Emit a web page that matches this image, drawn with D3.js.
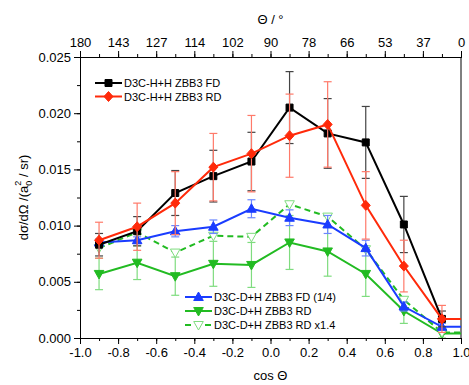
<!DOCTYPE html>
<html>
<head>
<meta charset="utf-8">
<script src="https://d3js.org/d3.v7.min.js"></script>
<style>
  body { margin: 0; background: #fff; }
  svg { font-family: "Liberation Sans", Arial, sans-serif; }
</style>
</head>
<body>
<svg id="chart" width="469" height="385"></svg>
<script>
// cos(theta) positions; the last point lies past the frame and gets clipped
const cosTheta = [-0.9, -0.7, -0.5, -0.3, -0.1, 0.1, 0.3, 0.5, 0.7, 0.9, 1.1];

const hhFD    = [0.0083, 0.0095, 0.0129, 0.0144, 0.0157, 0.0205, 0.0182, 0.0174, 0.0101, 0.0017, 0.0017];
const hhFDerr = [0.0010, 0.0013, 0.0020, 0.0023, 0.0026, 0.0032, 0.0031, 0.0032, 0.0025, 0.0007, null];

const hhRD    = [0.0087, 0.0099, 0.0120, 0.0152, 0.0164, 0.0180, 0.0190, 0.0118, 0.0064, 0.0017, 0.0017];
const hhRDerr = [0.0016, 0.0021, 0.0028, 0.0030, 0.0034, 0.0037, 0.0038, 0.0030, 0.0023, 0.0012, null];

const dhFD    = [0.0085, 0.0087, 0.0095, 0.0099, 0.0115, 0.0107, 0.0101, 0.0080, 0.0028, 0.0010, 0.0010];
const dhFDerr = [0.0003, 0.0003, 0.0005, 0.0006, 0.0008, 0.0007, 0.0008, 0.0007, 0.0004, 0.0003, null];

const dhRD    = [0.0057, 0.0067, 0.0055, 0.0066, 0.0065, 0.0085, 0.0077, 0.0057, 0.0024, 0.0004, 0.0004];
const dhRDerr = [0.0014, 0.0015, 0.0017, 0.0020, 0.0020, 0.0024, 0.0022, 0.0020, 0.0011, 0.0004, null];

const dhRD14  = [0.0080, 0.0094, 0.0076, 0.0091, 0.0090, 0.0119, 0.0108, 0.0079, 0.0034, 0.0005, 0.0005];

const xTicks = [-1.0, -0.8, -0.6, -0.4, -0.2, 0.0, 0.2, 0.4, 0.6, 0.8, 1.0];
const thetaLabels = ['180', '143', '127', '114', '102', '90', '78', '66', '53', '37', '0'];
const yTicks = [0, 0.005, 0.010, 0.015, 0.020, 0.025];

const margin = { top: 57, right: 8, bottom: 47, left: 80 };
const width = 469 - margin.left - margin.right;
const height = 385 - margin.top - margin.bottom;

const svg = d3.select('#chart');
const g = svg.append('g').attr('transform', `translate(${margin.left},${margin.top})`);

const x = d3.scaleLinear().domain([-1, 1]).range([0, width]);
const y = d3.scaleLinear().domain([0, 0.025]).range([height, 0]);

g.append('defs').append('clipPath').attr('id', 'clip')
  .append('rect').attr('width', width).attr('height', height);

// axes: major + minor ticks, all pointing out
function styleAxis(sel) {
  sel.select('.domain').attr('stroke', '#000').attr('stroke-width', 1);
  sel.selectAll('.tick line').attr('stroke', '#000');
  sel.selectAll('.tick text').attr('font-size', 13).attr('fill', '#000');
}
const minorX = d3.range(-1, 1.001, 0.1);
const minorY = d3.range(0, 0.02501, 0.0025);
const fmtX = d => d3.format('.1f')(d).replace('−', '-');

g.append('g').attr('transform', `translate(0,${height})`)
  .call(d3.axisBottom(x).tickValues(minorX).tickSize(3).tickFormat(''))
  .call(styleAxis);
g.append('g').attr('transform', `translate(0,${height})`)
  .call(d3.axisBottom(x).tickValues(xTicks).tickSize(6).tickPadding(4).tickFormat(fmtX))
  .call(styleAxis);

g.append('g')
  .call(d3.axisTop(x).tickValues(minorX).tickSize(3).tickFormat(''))
  .call(styleAxis);
g.append('g')
  .call(d3.axisTop(x).tickValues(xTicks).tickSize(6).tickPadding(4).tickFormat((d, i) => thetaLabels[i]))
  .call(styleAxis);

g.append('g')
  .call(d3.axisLeft(y).tickValues(minorY).tickSize(3).tickFormat(''))
  .call(styleAxis);
g.append('g')
  .call(d3.axisLeft(y).tickValues(yTicks).tickSize(6).tickPadding(3).tickFormat(d3.format('.3f')))
  .call(styleAxis);

g.append('line')
  .attr('x1', width).attr('x2', width).attr('y1', 0).attr('y2', height)
  .attr('stroke', '#000');

// axis titles
svg.append('text').attr('x', margin.left + width / 2).attr('y', 24)
  .attr('text-anchor', 'middle').attr('font-size', 13).text('Θ / °');
svg.append('text').attr('x', margin.left + width / 2).attr('y', 380)
  .attr('text-anchor', 'middle').attr('font-size', 13).text('cos Θ');

const yl = svg.append('text')
  .attr('transform', `translate(28,${margin.top + height / 2}) rotate(-90)`)
  .attr('text-anchor', 'middle').attr('font-size', 13);
yl.append('tspan').text('dσ/dΩ  /(a');
yl.append('tspan').attr('font-size', 9).attr('dy', 4).text('0');
yl.append('tspan').attr('font-size', 9).attr('dx', -5).attr('dy', -11).text('2');
yl.append('tspan').attr('dy', 7).text(' / sr)');

// series
const series = [
  { name: 'D3C-D+H ZBB3 RD', vals: dhRD, err: dhRDerr, color: '#22bb22', errColor: '#7fdc7f', marker: 'down', fill: true },
  { name: 'D3C-D+H ZBB3 RD x1.4', vals: dhRD14, err: null, color: '#22bb22', errColor: '#7fdc7f', marker: 'down', fill: false, dash: '6,4' },
  { name: 'D3C-D+H ZBB3 FD (1/4)', vals: dhFD, err: dhFDerr, color: '#1a3cff', errColor: '#6b86ff', marker: 'up', fill: true },
  { name: 'D3C-H+H ZBB3 FD', vals: hhFD, err: hhFDerr, color: '#000000', errColor: '#444444', marker: 'square', fill: true },
  { name: 'D3C-H+H ZBB3 RD', vals: hhRD, err: hhRDerr, color: '#ff2a0a', errColor: '#ff7a6a', marker: 'diamond', fill: true }
];

function markerPath(type) {
  if (type === 'square') return 'M-3.5,-3.5H3.5V3.5H-3.5Z';
  if (type === 'diamond') return 'M0,-5L4.5,0L0,5L-4.5,0Z';
  if (type === 'up') return 'M0,-5L4.8,3.5H-4.8Z';
  return 'M0,5L4.8,-3.5H-4.8Z';
}

const plot = g.append('g').attr('clip-path', 'url(#clip)');
const line = d3.line().x((d, i) => x(cosTheta[i])).y(d => y(d));

series.forEach(s => {
  const sg = plot.append('g');
  if (s.err) {
    const eb = sg.selectAll('.eb')
      .data(s.vals.map((v, i) => ({ v, e: s.err[i], c: cosTheta[i] })).filter(d => d.e != null))
      .enter().append('g');
    eb.append('line')
      .attr('x1', d => x(d.c)).attr('x2', d => x(d.c))
      .attr('y1', d => y(d.v + d.e)).attr('y2', d => y(d.v - d.e))
      .attr('stroke', s.errColor).attr('stroke-width', 1.2);
    [1, -1].forEach(sgn => {
      eb.append('line')
        .attr('x1', d => x(d.c) - 4).attr('x2', d => x(d.c) + 4)
        .attr('y1', d => y(d.v + sgn * d.e)).attr('y2', d => y(d.v + sgn * d.e))
        .attr('stroke', s.errColor).attr('stroke-width', 1.2);
    });
  }
  sg.append('path').datum(s.vals)
    .attr('fill', 'none').attr('stroke', s.color).attr('stroke-width', 2)
    .attr('stroke-dasharray', s.dash || null)
    .attr('d', line);
  sg.selectAll('.mk').data(s.vals).enter().append('path')
    .attr('transform', (d, i) => `translate(${x(cosTheta[i])},${y(d)})`)
    .attr('d', markerPath(s.marker))
    .attr('fill', s.fill ? s.color : '#fff')
    .attr('stroke', s.fill ? s.color : s.errColor)
    .attr('stroke-width', 1);
});

// legends
function legend(items, lx, ly, step) {
  const lg = g.append('g').attr('transform', `translate(${lx},${ly})`);
  items.forEach((s, i) => {
    const row = lg.append('g').attr('transform', `translate(0,${i * step})`);
    row.append('line').attr('x1', 0).attr('x2', 27).attr('y1', 0).attr('y2', 0)
      .attr('stroke', s.color).attr('stroke-width', 2).attr('stroke-dasharray', s.dash || null);
    if (s.dash) {
      row.append('rect').attr('x', 8).attr('y', -6).attr('width', 11).attr('height', 12).attr('fill', '#fff');
    }
    row.append('path').attr('transform', 'translate(13.5,0)')
      .attr('d', markerPath(s.marker))
      .attr('fill', s.fill ? s.color : '#fff')
      .attr('stroke', s.fill ? s.color : s.errColor);
    row.append('text').attr('x', 29).attr('y', 4).attr('font-size', 11).text(s.name);
  });
}
legend([series[3], series[4]], 15, 26, 13.5);
legend([series[2], series[0], series[1]], 105, 240, 14);
</script>
</body>
</html>
